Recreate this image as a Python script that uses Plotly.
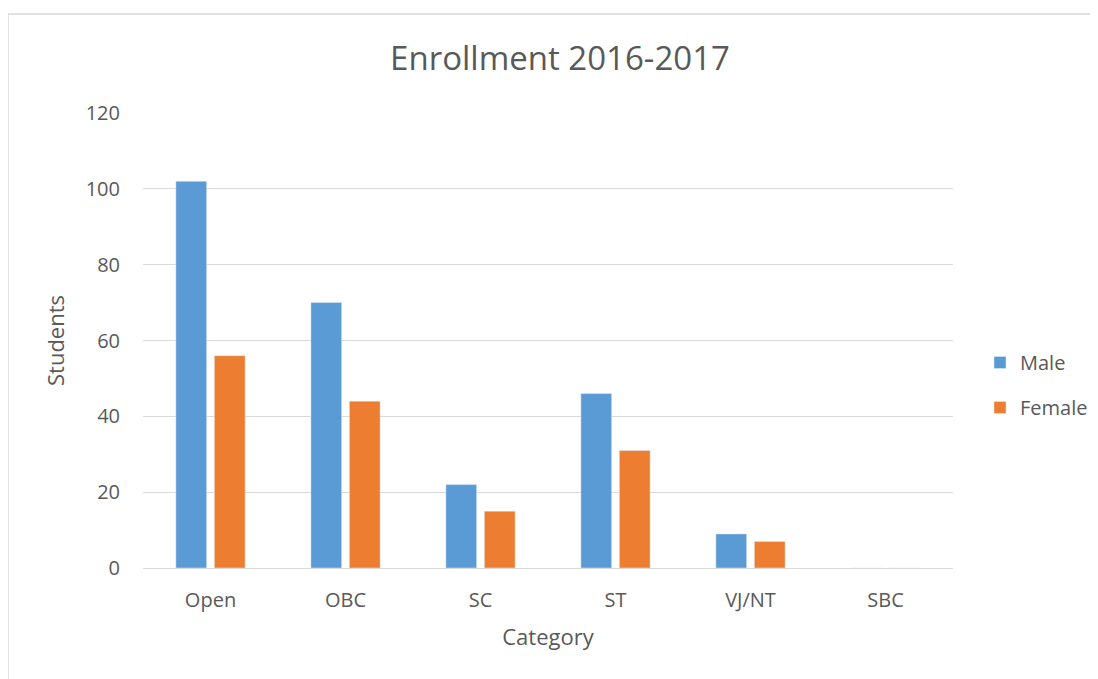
import plotly.graph_objects as go

categories = ["Open", "OBC", "SC", "ST", "VJ/NT", "SBC"]
male = [102, 70, 22, 46, 9, 0]
female = [56, 44, 15, 31, 7, 0]
y_ticks = [0, 20, 40, 60, 80, 100, 120]

FONT = "Open Sans"
GREY = "#595959"

fig = go.Figure()
fig.add_trace(go.Bar(name="Male", x=categories, y=male, marker_color="#5B9BD5",
                     legendgroup="m"))
fig.add_trace(go.Bar(name="Female", x=categories, y=female, marker_color="#ED7D31",
                     legendgroup="f"))

# page body has an 8px margin; coordinates below are in figure pixels
OFF = 8
W, H = 1098 - OFF, 679 - OFF
L, T = 143 - OFF, 113 - OFF
R = W - (953 - OFF)
B = H - (568 - OFF)
pw, ph = W - L - R, H - T - B

def px_x(x):
    return (x - OFF - L) / pw

def px_y(y):
    return (568 - y) / ph

fig.update_layout(
    width=W, height=H,
    margin=dict(l=L, r=R, t=T, b=B, autoexpand=False),
    paper_bgcolor="white", plot_bgcolor="white",
    barmode="group", bargap=0.43, bargroupgap=0.2,
    font=dict(family=FONT, color=GREY),
    title=dict(text="Enrollment 2016-2017", x=(560 - OFF) / W, xanchor="center",
               y=1 - (58 - OFF) / H, yanchor="middle",
               font=dict(size=33, color=GREY, family=FONT)),
    legend=dict(xref="container", yref="container",
                x=(980 - OFF) / W, xanchor="left",
                y=1 - (385 - OFF) / H, yanchor="middle",
                font=dict(size=20, color=GREY), tracegroupgap=16,
                itemwidth=30, bgcolor="rgba(0,0,0,0)"),
    showlegend=True,
)
fig.update_xaxes(
    title=dict(text="Category", font=dict(size=22, color=GREY), standoff=17),
    tickfont=dict(size=20, color=GREY), showgrid=False,
    showline=True, linecolor="#D9D9D9", linewidth=1,
    ticks="", ticklabelstandoff=14,
)
fig.update_yaxes(
    title=dict(text="Students", font=dict(size=22, color=GREY), standoff=14),
    range=[0, 120], tickvals=y_ticks, tickfont=dict(size=20, color=GREY),
    showgrid=True, gridcolor="#D9D9D9", gridwidth=1, zeroline=False,
    ticks="", ticklabelstandoff=22,
)
fig.add_shape(type="rect", xref="paper", yref="paper",
              x0=px_x(8), x1=px_x(1115),
              y0=px_y(700), y1=px_y(14),
              line=dict(color="#D9D9D9", width=1.5), layer="below")

fig.write_html("out.html")
